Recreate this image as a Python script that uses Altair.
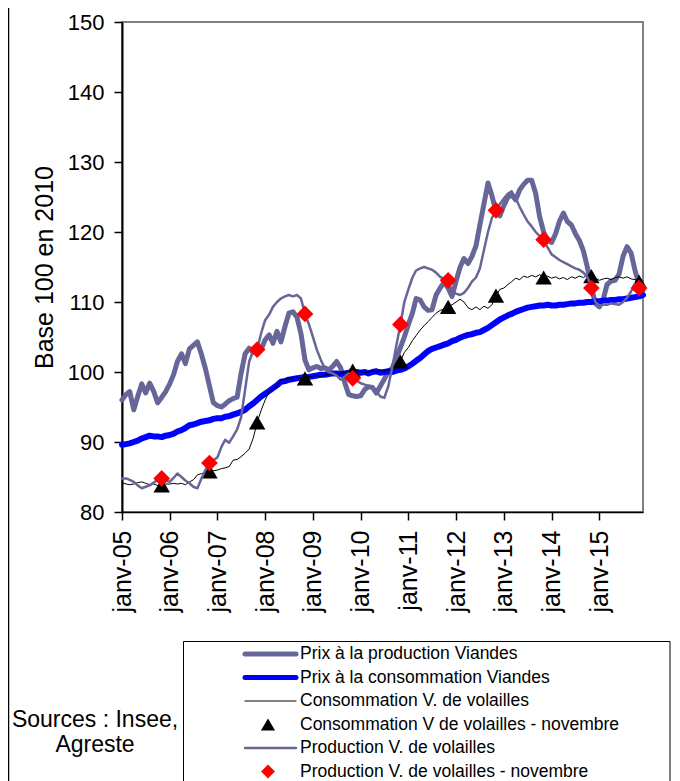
import altair as alt
import pandas as pd

ANNEES = list(range(2005, 2016))
MOIS = pd.date_range("2005-01-01", "2015-12-01", freq="MS")

SERIES = [
    "Prix à la production Viandes",
    "Prix à la consommation Viandes",
    "Consommation V. de volailles",
    "Consommation V de volailles - novembre",
    "Production V. de volailles",
    "Production V. de volailles - novembre",
]
COULEURS = ["#666699", "#0000ff", "#000000", "#000000", "#666699", "#ff0000"]

prix_production_viandes = [
    96.0, 96.8, 97.2, 94.6, 96.5, 98.3, 97.0, 98.4, 97.2, 95.6, 96.4, 97.2,          # 2005
    98.3, 99.7, 101.5, 102.6, 101.2, 103.3, 103.8, 104.3, 102.5, 100.5, 98.0, 95.6,  # 2006
    95.2, 95.0, 95.4, 95.9, 96.2, 96.4, 99.8, 102.6, 103.4, 102.8, 103.1, 103.2,     # 2007
    104.6, 105.3, 104.1, 105.8, 104.3, 106.5, 108.4, 108.6, 107.8, 105.5, 101.7, 100.3,  # 2008
    100.6, 100.8, 100.5, 100.6, 100.3, 100.8, 101.5, 100.6, 98.5, 96.8, 96.6, 96.5,  # 2009
    96.6, 97.5, 97.9, 97.8, 97.0, 98.0, 99.0, 100.0, 100.6, 102.0, 103.5, 105.0,     # 2010
    106.8, 108.4, 110.5, 110.3, 109.3, 108.8, 108.9, 111.0, 112.0, 112.8, 112.0, 110.8,  # 2011
    113.0, 115.0, 116.2, 115.5, 116.5, 118.0, 121.0, 124.0, 127.0, 125.2, 123.0, 122.3,  # 2012
    123.8, 125.0, 125.3, 124.6, 126.0, 126.8, 127.4, 127.4, 125.5, 122.2, 120.0, 118.8,  # 2013
    118.5, 119.8, 121.5, 122.7, 121.5, 121.0, 119.8, 118.8, 117.3, 115.0, 112.2, 109.8,  # 2014
    109.3, 110.5, 112.5, 113.0, 113.1, 114.0, 116.5, 117.9, 117.0, 114.5, 112.5, 111.7,  # 2015
]

prix_consommation_viandes = [
    89.6, 89.7, 89.8, 90.0, 90.2, 90.5, 90.7, 90.9, 90.8, 90.8, 90.7, 90.9,
    91.0, 91.2, 91.5, 91.7, 92.0, 92.4, 92.5, 92.7, 92.9, 93.0, 93.1, 93.3,
    93.4, 93.4, 93.6, 93.7, 93.9, 94.1, 94.3, 94.6, 95.1, 95.5, 96.0, 96.5,
    96.9, 97.3, 97.7, 98.1, 98.6, 98.7, 98.9, 99.0, 99.1, 99.2, 99.3, 99.3,
    99.4, 99.5, 99.6, 99.6, 99.7, 99.8, 99.8, 99.7, 99.8, 99.9, 99.9, 100.0,
    99.9, 100.0, 99.8, 100.0, 100.1, 99.9, 100.0, 100.1, 100.0, 100.2, 100.3, 100.5,
    100.8, 101.2, 101.6, 102.0, 102.5, 103.0, 103.3, 103.5, 103.7, 103.9, 104.1, 104.4,
    104.6, 104.9, 105.1, 105.3, 105.4, 105.6, 105.7, 106.0, 106.3, 106.7, 107.1, 107.5,
    107.8, 108.1, 108.3, 108.6, 108.8, 109.0, 109.2, 109.3, 109.4, 109.5, 109.5, 109.6,
    109.5, 109.5, 109.6, 109.6, 109.7, 109.8, 109.8, 109.9, 109.9, 110.0, 110.0, 110.1,
    110.1, 110.2, 110.2, 110.3, 110.3, 110.4, 110.4, 110.5, 110.6, 110.7, 110.8, 111.0,
]

consommation_volailles = [
    84.2, 84.0, 83.9, 84.0, 84.2, 84.3, 84.1, 83.9, 84.0, 83.8, 83.8, 84.0,
    84.0, 84.1, 84.0, 84.1, 83.9, 84.3, 84.6, 85.3, 85.5, 85.6, 85.8, 85.9,
    86.0, 86.2, 86.3, 86.5, 87.4, 87.5, 87.9, 88.4, 89.0, 90.5, 92.8, 94.5,
    96.0, 97.2, 97.6, 98.0, 98.9, 99.0, 99.1, 99.2, 99.3, 99.0, 99.1, 99.3,
    99.4, 99.5, 99.3, 99.6, 99.6, 99.8, 99.7, 99.8, 100.0, 99.9, 100.2, 100.0,
    100.1, 99.9, 100.0, 100.2, 100.0, 100.3, 100.1, 100.4, 100.3, 100.6, 101.5, 102.8,
    103.5, 104.5, 105.2, 106.0, 106.6, 107.2, 107.8, 108.4, 108.8, 109.0, 109.3, 109.6,
    110.0, 110.4, 110.0, 109.2, 108.9, 109.3, 108.9, 109.4, 109.1, 109.6, 110.9, 111.8,
    112.0, 112.5, 112.9, 113.4, 113.2, 113.7, 113.5, 113.8, 113.6, 113.9, 113.5, 113.7,
    113.4, 113.6, 113.3, 113.5, 113.2, 113.6, 113.4, 113.7, 113.5, 113.8, 113.7, 113.4,
    113.1, 113.3, 113.4, 113.2, 113.5, 113.6, 113.4, 113.6, 113.3, 113.2, 112.9, 113.0,
]

production_volailles = [
    84.8, 84.8, 84.6, 84.3, 83.8, 83.4, 83.6, 83.8, 84.2, 84.6, 84.8, 84.5,
    84.3, 84.9, 85.5, 85.0, 84.5, 84.1, 83.6, 83.4, 84.8, 86.0, 87.0, 87.4,
    87.8, 89.3, 90.3, 89.9, 90.8, 91.8, 93.5, 97.5, 101.5, 103.0, 103.2, 105.5,
    107.4, 108.2, 109.3, 110.0, 110.5, 110.8, 111.0, 110.8, 111.0, 110.5, 108.3, 106.8,
    105.0, 103.1, 101.8, 100.5, 100.0, 99.8, 99.5, 98.9, 99.3, 99.8, 99.1, 98.8,
    98.4, 98.2, 98.0, 97.9, 97.2, 96.5, 96.3, 98.0, 100.8, 103.8, 106.8, 110.0,
    111.8, 113.5, 114.5, 114.8, 115.0, 114.8, 114.6, 114.2, 113.6, 113.3, 113.1, 111.5,
    111.2, 111.0, 111.3, 112.0, 112.9, 113.5, 114.8, 117.4, 120.0, 122.0, 123.1, 124.0,
    124.8, 125.5, 125.8, 124.8, 123.6, 122.5, 121.5, 120.8, 120.0, 119.4, 118.9, 117.8,
    116.8, 116.4, 116.0, 115.7, 115.4, 115.1, 114.8, 114.6, 114.2, 113.6, 112.0, 110.0,
    109.5, 109.6, 109.6, 109.8, 109.7, 109.6, 110.0, 110.6, 111.5, 112.6, 112.0, 112.3,
]

FONT = "Liberation Sans"
EPAISSEURS = {SERIES[0]: 5, SERIES[1]: 6, SERIES[2]: 1, SERIES[4]: 2.5}


def serie(nom, valeurs):
    return pd.DataFrame({"date": MOIS, "valeur": valeurs, "serie": nom})


df_pv = serie(SERIES[0], prix_production_viandes)
df_cv = serie(SERIES[1], prix_consommation_viandes)
df_cvol = serie(SERIES[2], consommation_volailles)
df_pvol = serie(SERIES[4], production_volailles)
df_cvol_nov = df_cvol[df_cvol["date"].dt.month == 11].assign(serie=SERIES[3])
df_pvol_nov = df_pvol[df_pvol["date"].dt.month == 11].assign(serie=SERIES[5])

couleur = alt.Color("serie:N", scale=alt.Scale(domain=SERIES, range=COULEURS), legend=None)

x_enc = alt.X(
    "date:T",
    title=None,
    scale=alt.Scale(domain=[alt.DateTime(year=2005, month=1, date=1),
                            alt.DateTime(year=2015, month=12, date=1)]),
    axis=alt.Axis(
        values=[alt.DateTime(year=a, month=1, date=1) for a in ANNEES],
        labelExpr="'janv-' + timeFormat(datum.value, '%y')",
        labelAngle=-90, labelFontSize=25, labelPadding=10, labelFlush=False,
        labelOverlap=False, tickSize=8, tickColor="black", tickWidth=1.5,
        domainColor="black", domainWidth=1.5, grid=False,
    ),
)
y_enc = alt.Y(
    "valeur:Q",
    scale=alt.Scale(domain=[80, 150], nice=False, zero=False),
    axis=alt.Axis(
        values=list(range(80, 151, 10)), labelFontSize=22, labelPadding=10,
        tickSize=8, tickColor="black", tickWidth=1.5, domainColor="black",
        domainWidth=2, grid=False, title="Base 100 en 2010", titleFontSize=25,
        titleFontWeight="normal", titlePadding=10,
    ),
)


def ligne(df, nom):
    return alt.Chart(df).mark_line(strokeWidth=EPAISSEURS[nom], strokeJoin="round",
                                   strokeCap="round").encode(x=x_enc, y=y_enc, color=couleur)


def marqueur(df, forme, taille):
    return alt.Chart(df).mark_point(filled=True, shape=forme, size=taille, opacity=1).encode(
        x=x_enc, y=y_enc, color=couleur)


principal = alt.layer(
    ligne(df_pv, SERIES[0]),
    ligne(df_cv, SERIES[1]),
    ligne(df_cvol, SERIES[2]),
    marqueur(df_cvol_nov, "triangle-up", 270),
    ligne(df_pvol, SERIES[4]),
    marqueur(df_pvol_nov, "diamond", 280),
)

# ---- légende ----
df_leg = pd.DataFrame({"serie": SERIES, "rang": list(range(len(SERIES)))})
y_leg = alt.Y("rang:Q", scale=alt.Scale(domain=[0, 5], range=[632, 749.5]), axis=None)

cadre_leg = alt.Chart(pd.DataFrame({"k": [0]})).mark_rect(
    fill="white", stroke="black", strokeWidth=1).encode(
    x=alt.value(61.5), x2=alt.value(548), y=alt.value(619.5), y2=alt.value(820))


def trait_leg(nom):
    return alt.Chart(df_leg).transform_filter(
        alt.FieldEqualPredicate(field="serie", equal=nom)).mark_rule(
        strokeCap="round", strokeWidth=min(EPAISSEURS[nom], 5)).encode(
        x=alt.value(123), x2=alt.value(174), y=y_leg, color=couleur)


def symbole_leg(nom, forme, taille):
    return alt.Chart(df_leg).transform_filter(
        alt.FieldEqualPredicate(field="serie", equal=nom)).mark_point(
        filled=True, shape=forme, size=taille, opacity=1).encode(
        x=alt.value(146), y=y_leg, color=couleur)


texte_leg = alt.Chart(df_leg).mark_text(
    align="left", baseline="middle", font=FONT, fontSize=17.5, color="black").encode(
    x=alt.value(178), y=y_leg, text="serie:N")

legende = alt.layer(
    cadre_leg,
    trait_leg(SERIES[0]), trait_leg(SERIES[1]), trait_leg(SERIES[2]),
    symbole_leg(SERIES[3], "triangle-up", 200),
    trait_leg(SERIES[4]),
    symbole_leg(SERIES[5], "diamond", 190),
    texte_leg,
)

bord = alt.Chart(pd.DataFrame({"k": [0]})).mark_rule(color="black", strokeWidth=1.5).encode(
    x=alt.value(-113.5), y=alt.value(-30), y2=alt.value(820))

sources = alt.Chart(pd.DataFrame({"k": [0]})).mark_text(
    align="center", baseline="alphabetic", font=FONT, fontSize=23, lineHeight=25,
    color="black").encode(
    x=alt.value(-27), y=alt.value(705), text=alt.value(["Sources : Insee,", "Agreste"]))

chart = alt.layer(bord, principal, legende, sources).resolve_scale(
    y="independent"
).properties(
    width=521, height=490,
    padding={"left": 114, "top": 14, "right": 29, "bottom": 269},
    autosize=alt.AutoSizeParams(type="none"),
).configure_view(
    stroke="#808080", strokeWidth=2
).configure_axis(
    labelFont=FONT, titleFont=FONT, labelColor="black", titleColor="black"
)

chart.save("out.html", embed_options={"renderer": "svg", "actions": False})
